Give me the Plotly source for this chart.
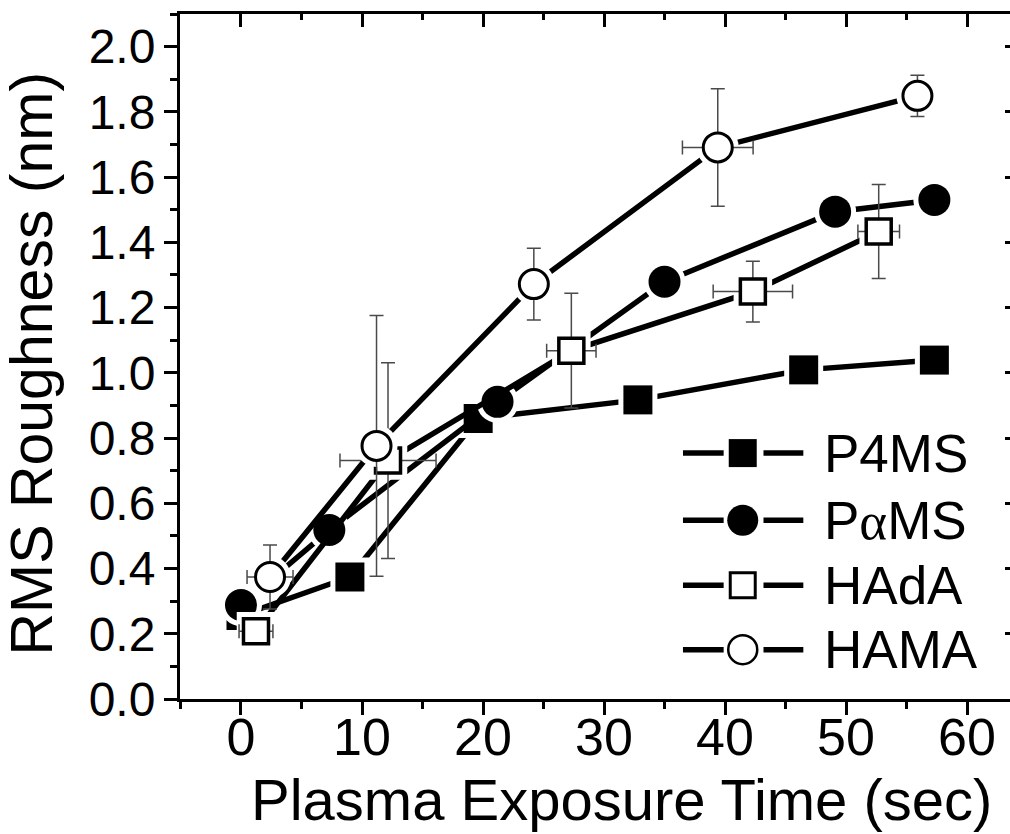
import plotly.graph_objects as go

# Plasma exposure time (s) and RMS roughness (nm) per resist
p4ms_t = [0.0, 9.0, 19.6, 32.8, 46.5, 57.3]
p4ms_r = [0.256, 0.374, 0.860, 0.917, 1.009, 1.039]

pams_t = [0.0, 7.3, 21.2, 35.0, 49.1, 57.3]
pams_r = [0.288, 0.518, 0.911, 1.279, 1.494, 1.530]

hada_t = [1.24, 12.15, 27.3, 42.3, 52.7]
hada_r = [0.208, 0.731, 1.068, 1.249, 1.433]
hada_t_err = [1.4, 3.97, 2.04, 3.28, 1.72]
hada_r_err = [0.03, 0.30, 0.176, 0.093, 0.144]

hama_t = [2.4, 11.2, 24.2, 39.4, 55.9]
hama_r = [0.374, 0.776, 1.272, 1.691, 1.849]
hama_t_err = [1.9, 0.5, 0.6, 2.92, 0.58]
hama_r_err = [0.098, 0.40, 0.11, 0.18, 0.063]

legend_labels = ["P4MS", "P<span style='font-family:Liberation Serif'>α</span>MS", "HAdA", "HAMA"]

x_ticks = [0, 10, 20, 30, 40, 50, 60]
y_ticks = [0.0, 0.2, 0.4, 0.6, 0.8, 1.0, 1.2, 1.4, 1.6, 1.8, 2.0]

X_RANGE = [-5.04, 63.55]
Y_RANGE = [0.0, 2.1]

FONT = "Liberation Sans, Arial, sans-serif"
ERR_COLOR = "#4a4a4a"
LINE_W = 5.5
GAP = 5

series = [
    dict(t=p4ms_t, r=p4ms_r, te=None, re=None, symbol="square", size=29,
         fill="black", lw=0, leg_size=28, leg_lw=0),
    dict(t=pams_t, r=pams_r, te=None, re=None, symbol="circle", size=32,
         fill="black", lw=0, leg_size=31, leg_lw=0),
    dict(t=hada_t, r=hada_r, te=hada_t_err, re=hada_r_err, symbol="square", size=25,
         fill="white", lw=3.5, leg_size=25, leg_lw=3),
    dict(t=hama_t, r=hama_r, te=hama_t_err, re=hama_r_err, symbol="circle", size=29,
         fill="white", lw=3, leg_size=29, leg_lw=2.5),
]

fig = go.Figure()

for s in series:
    # connecting line
    fig.add_trace(go.Scatter(
        x=s["t"], y=s["r"], mode="lines",
        line=dict(color="black", width=LINE_W),
        showlegend=False, hoverinfo="skip"))
    # white halo that opens a gap between the line and the symbol
    fig.add_trace(go.Scatter(
        x=s["t"], y=s["r"], mode="markers",
        marker=dict(symbol=s["symbol"], size=s["size"] + s["lw"] + 2 * GAP,
                    color="white", opacity=1, line=dict(width=0)),
        showlegend=False, hoverinfo="skip"))
    kw = {}
    if s["te"] is not None:
        kw["error_x"] = dict(type="data", array=s["te"], color=ERR_COLOR,
                             thickness=1.5, width=7)
        kw["error_y"] = dict(type="data", array=s["re"], color=ERR_COLOR,
                             thickness=1.5, width=7)
    fig.add_trace(go.Scatter(
        x=s["t"], y=s["r"], mode="markers",
        marker=dict(symbol=s["symbol"], size=s["size"], color=s["fill"], opacity=1,
                    line=dict(color="black", width=s["lw"])),
        showlegend=False, hoverinfo="skip", **kw))

# invisible traces so the mirrored top / right axes are drawn
fig.add_trace(go.Scatter(x=[None], y=[None], xaxis="x2", yaxis="y", showlegend=False))
fig.add_trace(go.Scatter(x=[None], y=[None], xaxis="x", yaxis="y2", showlegend=False))

# hand-built legend on a unit overlay axis pair
leg_rows = [0.359, 0.261, 0.166, 0.072]
leg_sym_x = 0.678
leg_line_segments = [(0.606, 0.655), (0.703, 0.751)]
leg_text_x = 0.773

for s, yr in zip(series, leg_rows):
    fig.add_trace(go.Scatter(
        x=[leg_sym_x], y=[yr], xaxis="x3", yaxis="y3", mode="markers",
        marker=dict(symbol=s["symbol"], size=s["leg_size"], color=s["fill"], opacity=1,
                    line=dict(color="black", width=s["leg_lw"])),
        showlegend=False, hoverinfo="skip"))

shapes = []
for yr in leg_rows:
    for x0, x1 in leg_line_segments:
        shapes.append(dict(type="line", xref="paper", yref="paper", layer="below",
                           x0=x0, x1=x1, y0=yr, y1=yr,
                           line=dict(color="black", width=LINE_W)))

annotations = []
for yr, lab in zip(leg_rows, legend_labels):
    annotations.append(dict(x=leg_text_x, y=yr, xref="paper", yref="paper",
                            text=lab, showarrow=False, xanchor="left",
                            yanchor="middle", font=dict(family=FONT, size=53, color="black")))

annotations.append(dict(x=0.5325, y=-0.146, xref="paper", yref="paper",
                        text="Plasma Exposure Time (sec)", showarrow=False,
                        xanchor="center", yanchor="middle",
                        font=dict(family=FONT, size=58, color="black")))
annotations.append(dict(x=-0.178, y=0.49, xref="paper", yref="paper",
                        text="RMS Roughness (nm)", showarrow=False, textangle=-90,
                        xanchor="center", yanchor="middle",
                        font=dict(family=FONT, size=59, color="black")))

axis_common = dict(showgrid=False, zeroline=False, automargin=False,
                   linecolor="black", tickcolor="black", tickwidth=3)

fig.update_layout(
    width=1010, height=834,
    margin=dict(l=180, r=0, t=14, b=135),
    paper_bgcolor="white", plot_bgcolor="white",
    showlegend=False,
    font=dict(family=FONT, color="black"),
    xaxis=dict(range=X_RANGE, tickmode="array", tickvals=x_ticks,
               ticktext=[str(v) for v in x_ticks],
               ticks="outside", ticklen=13, showline=True, linewidth=3,
               ticklabelstandoff=-22,
               tickfont=dict(family=FONT, size=52, color="black"),
               minor=dict(tickmode="linear", tick0=5, dtick=10, ticks="outside",
                          ticklen=7, tickwidth=3, tickcolor="black"),
               **axis_common),
    yaxis=dict(range=Y_RANGE, tickmode="array", tickvals=y_ticks,
               ticktext=[f"{v:.1f}" for v in y_ticks],
               ticks="outside", ticklen=13, showline=True, linewidth=3,
               ticklabelstandoff=-1,
               tickfont=dict(family=FONT, size=48, color="black"),
               minor=dict(tickmode="linear", tick0=0.1, dtick=0.2, ticks="outside",
                          ticklen=7, tickwidth=3, tickcolor="black"),
               **axis_common),
    xaxis2=dict(range=X_RANGE, overlaying="x", side="top", anchor="y",
                tickmode="array", tickvals=x_ticks, showticklabels=False,
                ticks="inside", ticklen=13, showline=True, linewidth=3,
                minor=dict(tickmode="linear", tick0=5, dtick=10, ticks="inside",
                           ticklen=6, tickwidth=3, tickcolor="black"),
                **axis_common),
    yaxis2=dict(range=Y_RANGE, overlaying="y", side="right", anchor="x",
                tickmode="array", tickvals=y_ticks, showticklabels=False,
                ticks="inside", ticklen=5, showline=False,
                **axis_common),
    xaxis3=dict(range=[0, 1], overlaying="x", visible=False, anchor="y3"),
    yaxis3=dict(range=[0, 1], overlaying="y", visible=False, anchor="x3"),
    shapes=shapes,
    annotations=annotations,
)

fig.write_html("out.html")
